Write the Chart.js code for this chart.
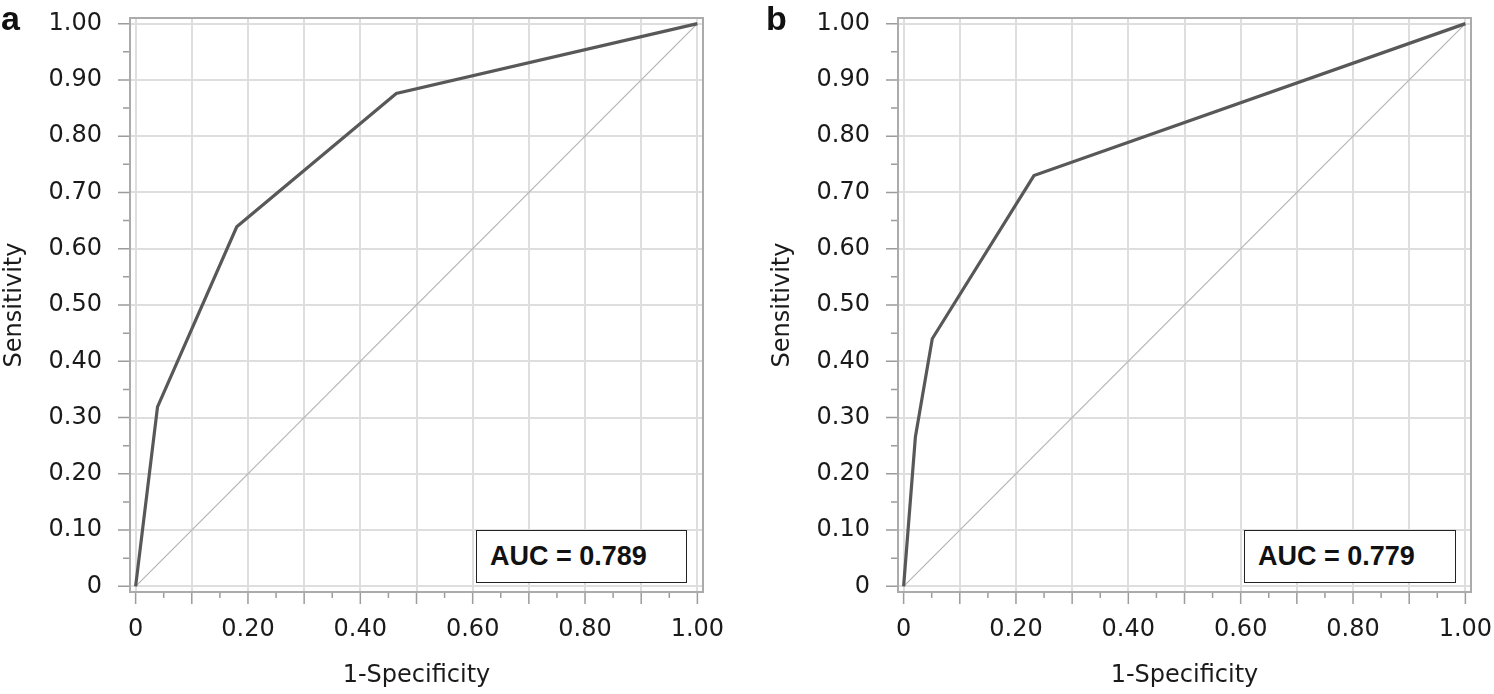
<!DOCTYPE html>
<html>
<head>
<meta charset="utf-8">
<script src="https://cdn.jsdelivr.net/npm/chart.js@4.4.1/dist/chart.umd.min.js"></script>
<style>
  html, body { margin: 0; padding: 0; background: #fff; }
  body { width: 1494px; height: 694px; position: relative; overflow: hidden; }
  canvas { position: absolute; top: 0; }
  .panel { position: absolute; font-family: "Liberation Sans", Arial, sans-serif; font-weight: bold; font-size: 34px; color: #111; line-height: 1; }
  .auc { position: absolute; box-sizing: border-box; border: 1.5px solid #222; background: #fff;
         font-family: "Liberation Sans", Arial, sans-serif; font-weight: bold; font-size: 27px; color: #111;
         display: flex; align-items: center; padding-left: 13px; }
</style>
</head>
<body>
<canvas id="ca" width="747" height="694" style="left:0px;width:747px;height:694px"></canvas>
<canvas id="cb" width="726" height="694" style="left:768px;width:726px;height:694px"></canvas>
<div class="panel" style="left:1px;top:1px;">a</div>
<div class="panel" style="left:766px;top:1px;">b</div>
<div class="auc" style="left:476px;top:530px;width:211px;height:53px;">AUC = 0.789</div>
<div class="auc" style="left:1244px;top:530px;width:212px;height:53px;">AUC = 0.779</div>
<script>
// ---- data ----
const rocA_x = [0, 0.039, 0.18, 0.464, 1.0];
const rocA_y = [0, 0.319, 0.639, 0.876, 1.0];
const rocB_x = [0, 0.021, 0.051, 0.232, 1.0];
const rocB_y = [0, 0.266, 0.44, 0.73, 1.0];
const refLine_x = [0, 1];
const refLine_y = [0, 1];
const majorTicks = [0, 0.1, 0.2, 0.3, 0.4, 0.5, 0.6, 0.7, 0.8, 0.9, 1.0];
const minorTicks = [0.05, 0.15, 0.25, 0.35, 0.45, 0.55, 0.65, 0.75, 0.85, 0.95];
const xTickLabels = ['0', '', '0.20', '', '0.40', '', '0.60', '', '0.80', '', '1.00'];
const yTickLabels = ['0', '0.10', '0.20', '0.30', '0.40', '0.50', '0.60', '0.70', '0.80', '0.90', '1.00'];
const xTitle = '1-Specificity';
const yTitle = 'Sensitivity';

const tickFont = { family: 'DejaVu Sans', size: 24, lineHeight: 1 };
const textColor = '#1a1a1a';

const framePlugin = {
  id: 'frame',
  afterDraw(chart) {
    const ctx = chart.ctx, a = chart.chartArea;
    const xs = chart.scales.x, ys = chart.scales.y;
    ctx.save();
    ctx.strokeStyle = '#9c9c9c';
    ctx.lineWidth = 1.5;
    ctx.beginPath();
    majorTicks.forEach(v => {
      const px = xs.getPixelForValue(v);
      ctx.moveTo(px, a.bottom); ctx.lineTo(px, a.bottom + 12);
      const py = ys.getPixelForValue(v);
      ctx.moveTo(a.left, py); ctx.lineTo(a.left - 12, py);
    });
    minorTicks.forEach(v => {
      const px = xs.getPixelForValue(v);
      ctx.moveTo(px, a.bottom); ctx.lineTo(px, a.bottom + 6);
      const py = ys.getPixelForValue(v);
      ctx.moveTo(a.left, py); ctx.lineTo(a.left - 7, py);
    });
    ctx.stroke();
    ctx.strokeStyle = '#ababab';
    ctx.lineWidth = 2;
    ctx.strokeRect(a.left, a.top, a.right - a.left, a.bottom - a.top);
    ctx.restore();
  }
};

function zeroPad(s) { s.paddingTop = 0; s.paddingBottom = 0; s.paddingLeft = 0; s.paddingRight = 0; }

function makeChart(id, xs, ys, rightPad) {
  const toPts = (X, Y) => X.map((v, i) => ({ x: v, y: Y[i] }));
  return new Chart(document.getElementById(id), {
    type: 'scatter',
    data: {
      datasets: [
        { data: toPts(xs, ys), showLine: true, borderColor: '#585858', borderWidth: 3.2,
          pointRadius: 0, tension: 0, order: 0 },
        { data: toPts(refLine_x, refLine_y), showLine: true, borderColor: '#b4b4b4', borderWidth: 1.2,
          pointRadius: 0, order: 1 }
      ]
    },
    options: {
      responsive: false,
      animation: false,
      events: [],
      layout: { padding: { top: 18, right: rightPad, left: 0, bottom: 0 } },
      plugins: { legend: { display: false }, tooltip: { enabled: false } },
      scales: {
        x: {
          type: 'linear', min: -0.01, max: 1.01,
          afterBuildTicks: s => { s.ticks = majorTicks.map(v => ({ value: v })); },
          afterFit: s => { s.height = 102; zeroPad(s); },
          grid: { color: '#dedede', lineWidth: 2, drawTicks: false },
          border: { display: false },
          ticks: { autoSkip: false, maxRotation: 0, padding: 26, font: tickFont, color: textColor,
                   callback: (v, i) => xTickLabels[i] },
          title: { display: true, text: xTitle, color: textColor,
                   font: { family: 'DejaVu Sans', size: 24, lineHeight: 1 }, padding: { top: 0, bottom: 6 } }
        },
        y: {
          type: 'linear', min: -0.01, max: 1.01,
          afterBuildTicks: s => { s.ticks = majorTicks.map(v => ({ value: v })); },
          afterFit: s => { s.width = 130; zeroPad(s); },
          grid: { color: '#dedede', lineWidth: 2, drawTicks: false },
          border: { display: false },
          ticks: { autoSkip: false, padding: 28, font: tickFont, color: textColor,
                   callback: (v, i) => yTickLabels[i] },
          title: { display: true, text: yTitle, color: textColor,
                   font: { family: 'DejaVu Sans', size: 24, lineHeight: 1 }, padding: { top: 3, bottom: 0 } }
        }
      }
    },
    plugins: [framePlugin]
  });
}

makeChart('ca', rocA_x, rocA_y, 44);
makeChart('cb', rocB_x, rocB_y, 23);
</script>
</body>
</html>
